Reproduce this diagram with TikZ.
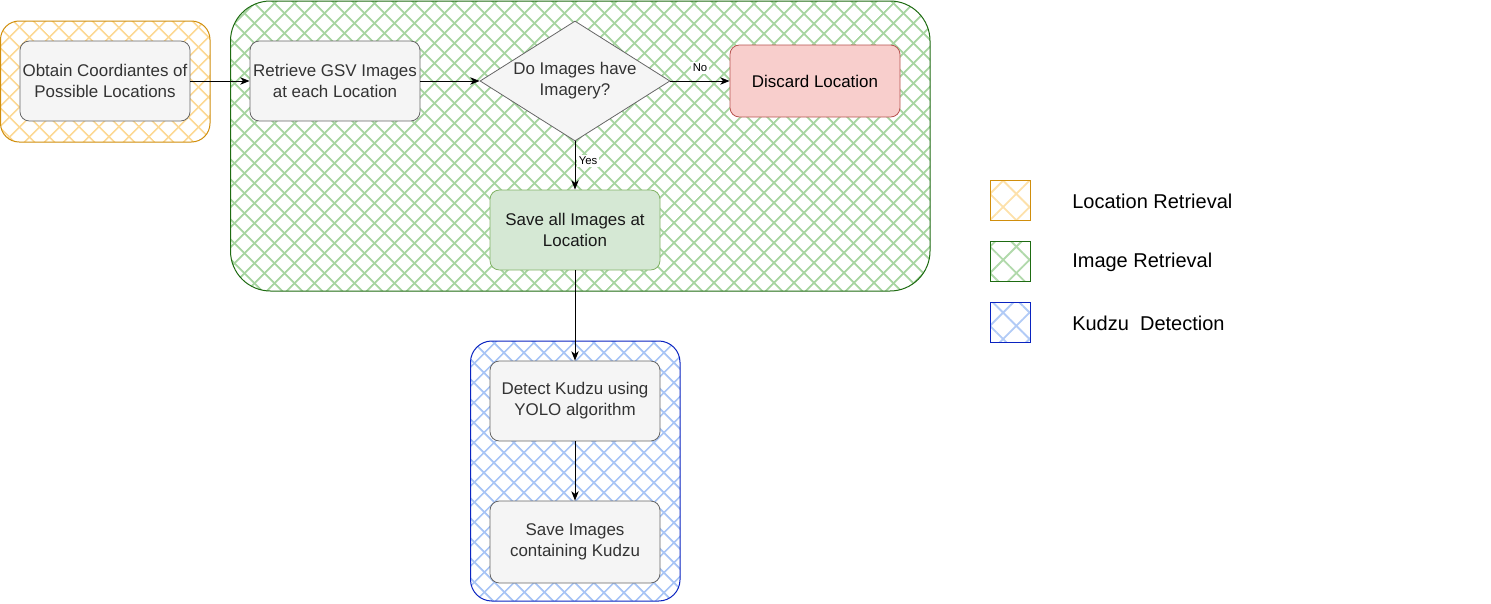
\documentclass[tikz,border=0pt]{standalone}
\usepackage{fontspec}
\setmainfont{Liberation Sans}
\usetikzlibrary{arrows.meta,patterns.meta,shapes.geometric}
\definecolor{ohatch}{HTML}{FCD996}
\definecolor{oline}{HTML}{D08E0C}
\definecolor{ghatch}{HTML}{A8D5A2}
\definecolor{gline}{HTML}{1E6B12}
\definecolor{bhatch}{HTML}{A9C5F5}
\definecolor{bline}{HTML}{0A23C0}
\definecolor{boxfill}{HTML}{F5F5F5}
\definecolor{boxline}{HTML}{666666}
\definecolor{boxtext}{HTML}{333333}
\definecolor{redfill}{HTML}{F8CECC}
\definecolor{redline}{HTML}{B85450}
\definecolor{grnfill}{HTML}{D5E8D4}
\definecolor{grnline}{HTML}{82B366}
\tikzset{
  hatchA/.style={pattern={Lines[angle=45,distance=#1,line width=1.4pt]}},
  hatchB/.style={pattern={Lines[angle=-45,distance=#1,line width=1.4pt]}},
  procbox/.style={draw=boxline, fill=boxfill, text=boxtext, rounded corners=7pt,
    minimum width=127.5pt, minimum height=60pt, align=center, inner sep=2pt,
    font=\fontsize{12.7pt}{15.8pt}\selectfont, line width=0.6pt},
  conn/.style={-{Stealth[length=7pt,width=5.5pt,inset=2pt]}, line width=0.75pt, black},
  elabel/.style={fill=white, inner sep=1.5pt, font=\fontsize{8.5pt}{10pt}\selectfont},
  legtext/.style={anchor=west, inner sep=0pt, font=\fontsize{15pt}{17pt}\selectfont, text=black},
}
\begin{document}
\begin{tikzpicture}[x=0.75pt,y=-0.75pt]
\useasboundingbox (0,0) rectangle (1491,603);
% groups
\fill[pattern color=ohatch, hatchA=10.5pt] [rounded corners=14pt] (0.5,21) rectangle (210,142);
\fill[pattern color=ohatch, hatchB=10.5pt] [rounded corners=14pt] (0.5,21) rectangle (210,142);
\draw[oline, line width=0.75pt, rounded corners=14pt] (0.5,21) rectangle (210,142);
\fill[pattern color=ghatch, hatchA=10.5pt] [rounded corners=30pt] (230.5,1) rectangle (930,291);
\fill[pattern color=ghatch, hatchB=10.5pt] [rounded corners=30pt] (230.5,1) rectangle (930,291);
\draw[gline, line width=0.75pt, rounded corners=30pt] (230.5,1) rectangle (930,291);
\fill[pattern color=bhatch, hatchA=10.5pt] [rounded corners=16pt] (470.5,341) rectangle (680,601);
\fill[pattern color=bhatch, hatchB=10.5pt] [rounded corners=16pt] (470.5,341) rectangle (680,601);
\draw[bline, line width=0.75pt, rounded corners=16pt] (470.5,341) rectangle (680,601);
% nodes
\node[procbox] (obtain) at (105,81) {Obtain Coordiantes of\\Possible Locations};
\node[procbox] (retrieve) at (335,81) {Retrieve GSV Images\\at each Location};
\node[diamond, draw=boxline, fill=boxfill, line width=0.6pt, inner sep=0pt,
      minimum width=142.5pt, minimum height=90pt] (check) at (575,81) {};
\node[align=center, text=boxtext, font=\fontsize{12.7pt}{15.8pt}\selectfont] (checktext) at (575,81) {Do Images have\\Imagery?};
\node[procbox, draw=redline, fill=redfill, text=black, minimum height=54pt] (discard) at (815,81) {Discard Location};
\node[procbox, draw=grnline, fill=grnfill, text=black!90] (saveall) at (575,230) {Save all Images at\\Location};
\node[procbox] (detect) at (575,401) {Detect Kudzu using\\YOLO algorithm};
\node[procbox, minimum height=61.5pt] (saveimg) at (575,542) {Save Images\\containing Kudzu};
% connectors
\draw[conn] (obtain.east) -- (retrieve.west);
\draw[conn] (retrieve.east) -- (check.west);
\draw[conn] (check.east) -- node[elabel, pos=0.5, above=5pt] (nolab) {No} (discard.west);
\draw[conn] (check.south) -- node[elabel, pos=0.4, right=1pt] (yeslab) {Yes} (saveall.north);
\draw[conn] (saveall.south) -- (detect.north);
\draw[conn] (detect.south) -- (saveimg.north);
% legend
\fill[pattern color=ohatch!80, hatchA=14pt] (990,180) rectangle (1030,220);
\fill[pattern color=ohatch!80, hatchB=14pt] (990,180) rectangle (1030,220);
\draw[oline, line width=0.75pt] (990,180) rectangle (1030,220);
\fill[pattern color=ghatch!90, hatchA=14pt] (990,241) rectangle (1030,281);
\fill[pattern color=ghatch!90, hatchB=14pt] (990,241) rectangle (1030,281);
\draw[gline, line width=0.75pt] (990,241) rectangle (1030,281);
\fill[pattern color=bhatch!90, hatchA=14pt] (990,302) rectangle (1030,342);
\fill[pattern color=bhatch!90, hatchB=14pt] (990,302) rectangle (1030,342);
\draw[bline, line width=0.75pt] (990,302) rectangle (1030,342);
\node[legtext] (leg1) at (1072,201) {Location Retrieval};
\node[legtext] (leg2) at (1072,262) {Image Retrieval};
\node[legtext] (leg3) at (1072,323) {Kudzu\ \ Detection};
\end{tikzpicture}
\end{document}
